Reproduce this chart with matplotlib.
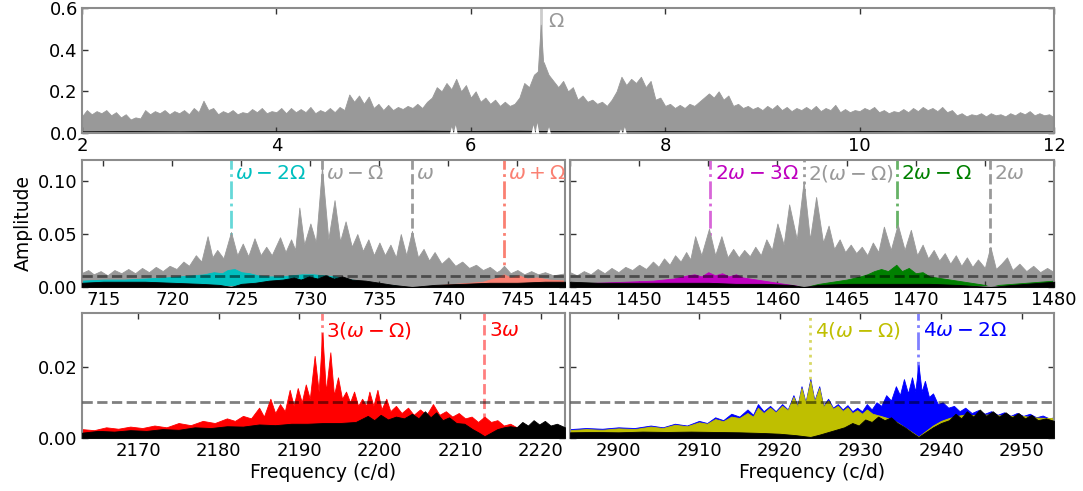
import numpy as np
import matplotlib
matplotlib.use('Agg')
import matplotlib.pyplot as plt

# ---------------- данные ----------------
# верхняя панель: 2-12 c/d, шаг 0.05
top_freq = np.round(np.arange(2.0, 12.001, 0.05), 2)
top_amp = [0.08, 0.11, 0.09, 0.105, 0.095, 0.11, 0.085, 0.10, 0.075, 0.09,
           0.065, 0.075, 0.07, 0.11, 0.09, 0.105, 0.095, 0.11, 0.09, 0.105,
           0.095, 0.11, 0.09, 0.12, 0.10, 0.155, 0.11, 0.12, 0.09, 0.105,
           0.095, 0.11, 0.09, 0.10, 0.095, 0.115, 0.10, 0.12, 0.095, 0.105,
           0.10, 0.12, 0.095, 0.12, 0.10, 0.115, 0.10, 0.125, 0.095, 0.11,
           0.10, 0.12, 0.10, 0.125, 0.11, 0.185, 0.15, 0.18, 0.14, 0.175,
           0.12, 0.14, 0.11, 0.135, 0.11, 0.125, 0.115, 0.13, 0.12, 0.14,
           0.12, 0.15, 0.17, 0.22, 0.20, 0.24, 0.21, 0.26, 0.20, 0.23,
           0.17, 0.20, 0.15, 0.17, 0.14, 0.16, 0.13, 0.15, 0.13, 0.14,
           0.17, 0.24, 0.22, 0.28, 0.30, 0.34, 0.28, 0.25, 0.22, 0.25,
           0.20, 0.22, 0.16, 0.18, 0.15, 0.16, 0.14, 0.15, 0.13, 0.16,
           0.20, 0.27, 0.23, 0.26, 0.24, 0.27, 0.22, 0.25, 0.16, 0.17,
           0.13, 0.14, 0.12, 0.135, 0.12, 0.14, 0.13, 0.15, 0.17, 0.19,
           0.17, 0.20, 0.16, 0.18, 0.13, 0.14, 0.12, 0.13, 0.115, 0.125,
           0.11, 0.13, 0.115, 0.135, 0.11, 0.125, 0.105, 0.12, 0.11, 0.125,
           0.11, 0.13, 0.105, 0.12, 0.11, 0.135, 0.10, 0.115, 0.10, 0.11,
           0.105, 0.12, 0.11, 0.125, 0.10, 0.11, 0.095, 0.105, 0.10, 0.115,
           0.10, 0.12, 0.105, 0.125, 0.11, 0.12, 0.105, 0.125, 0.10, 0.11,
           0.085, 0.095, 0.08, 0.09, 0.085, 0.095, 0.08, 0.095, 0.085, 0.09,
           0.08, 0.095, 0.085, 0.10, 0.09, 0.105, 0.085, 0.095, 0.085, 0.09,
           0.075]
peak_freq = [6.69, 6.72, 6.75]
peak_amp = [0.30, 0.52, 0.30]
top_black_freq = np.arange(2.0, 12.01, 0.5)
top_black_amp = [0.008, 0.009, 0.008, 0.01, 0.009, 0.011, 0.01, 0.011, 0.01, 0.011,
                 0.009, 0.008, 0.009, 0.008, 0.009, 0.008, 0.009, 0.008, 0.009, 0.008, 0.008]
top_white_f = [5.78, 5.80, 5.82, 5.84, 5.86, 6.62, 6.64, 6.66, 6.68, 6.70,
               6.78, 6.80, 6.82, 7.52, 7.54, 7.56, 7.58, 7.60]
top_white_a = [0.0, 0.03, 0.0, 0.04, 0.0, 0.0, 0.04, 0.0, 0.05, 0.0,
               0.0, 0.03, 0.0, 0.0, 0.02, 0.0, 0.03, 0.0]

# средняя левая панель (около omega - Omega)
ml_gray_f = [713.4, 713.9, 714.3, 714.8, 715.3, 715.8, 716.3, 716.8, 717.3, 717.8,
             718.3, 718.8, 719.3, 719.8, 720.3, 720.8, 721.2, 721.7, 722.1, 722.55,
             722.9, 723.25, 723.7, 724.25, 724.7, 725.1, 725.5, 725.95, 726.4, 726.8,
             727.2, 727.8, 728.2, 728.6, 728.9, 729.2, 729.55, 730.0, 730.4, 730.84,
             731.3, 731.75, 732.15, 732.55, 733.0, 733.4, 733.8, 734.2, 734.6, 735.0,
             735.4, 735.8, 736.2, 736.55, 736.95, 737.36, 737.8, 738.2, 738.6, 739.0,
             739.5, 740.0, 740.5, 741.0, 741.5, 742.0, 742.5, 743.0, 743.5, 743.75,
             744.03, 744.5, 745.0, 745.5, 746.0, 746.5, 747.0, 747.6, 748.5]
ml_gray_a = [0.013, 0.016, 0.012, 0.015, 0.011, 0.016, 0.013, 0.017, 0.013, 0.018,
             0.014, 0.019, 0.015, 0.020, 0.017, 0.024, 0.020, 0.030, 0.024, 0.048,
             0.028, 0.035, 0.027, 0.052, 0.030, 0.041, 0.029, 0.046, 0.030, 0.038,
             0.030, 0.047, 0.033, 0.045, 0.035, 0.075, 0.040, 0.060, 0.042, 0.113,
             0.045, 0.082, 0.043, 0.062, 0.038, 0.050, 0.034, 0.045, 0.030, 0.042,
             0.030, 0.040, 0.028, 0.050, 0.030, 0.053, 0.028, 0.036, 0.025, 0.033,
             0.022, 0.028, 0.020, 0.024, 0.018, 0.021, 0.016, 0.019, 0.014, 0.016,
             0.020, 0.013, 0.016, 0.012, 0.015, 0.012, 0.014, 0.011, 0.013]
ml_cyan_f = [713.4, 715.0, 716.5, 718.0, 719.5, 720.5, 721.5, 722.3, 723.0, 723.6,
             724.0, 724.5, 725.0, 725.6, 726.2, 727.0, 727.8, 728.6, 729.4, 730.2,
             731.0, 731.8, 732.6, 733.4, 734.2, 735.0, 736.0, 737.0]
ml_cyan_a = [0.006, 0.007, 0.007, 0.008, 0.009, 0.010, 0.011, 0.012, 0.014, 0.013,
             0.016, 0.017, 0.014, 0.013, 0.011, 0.010, 0.010, 0.011, 0.012, 0.012,
             0.011, 0.010, 0.008, 0.006, 0.004, 0.003, 0.0015, 0.0]
ml_salmon_f = [738.5, 739.5, 740.5, 741.5, 742.5, 743.0, 743.6, 744.03, 744.5, 745.1,
               745.7, 746.4, 747.3, 748.5]
ml_salmon_a = [0.0, 0.002, 0.003, 0.004, 0.005, 0.007, 0.009, 0.012, 0.009, 0.011,
               0.008, 0.009, 0.007, 0.006]
ml_black_f = [713.4, 715.0, 716.5, 718.0, 720.0, 722.0, 723.4, 724.25, 725.0, 726.0,
              727.0, 728.0, 728.8, 729.3, 729.9, 730.5, 731.1, 731.7, 732.3, 733.0,
              734.0, 735.0, 736.0, 737.36, 739.0, 741.0, 743.0, 745.0, 747.0, 748.5]
ml_black_a = [0.004, 0.005, 0.005, 0.005, 0.004, 0.003, 0.002, 0.0, 0.003, 0.004,
              0.006, 0.007, 0.009, 0.007, 0.010, 0.008, 0.011, 0.008, 0.010, 0.007,
              0.006, 0.004, 0.002, 0.0, 0.002, 0.003, 0.004, 0.004, 0.005, 0.005]

# средняя правая панель (около 2(omega - Omega))
mr_gray_f = [1445.0, 1445.5, 1446.0, 1446.5, 1447.0, 1447.5, 1448.0, 1448.5, 1449.0, 1449.5,
             1450.0, 1450.5, 1451.0, 1451.4, 1451.8, 1452.2, 1452.6, 1453.0, 1453.4, 1453.7,
             1454.05, 1454.5, 1455.05, 1455.5, 1455.95, 1456.4, 1456.8, 1457.2, 1457.6, 1458.0,
             1458.4, 1458.8, 1459.2, 1459.6, 1460.0, 1460.45, 1460.85, 1461.4, 1461.9, 1462.35,
             1462.8, 1463.3, 1463.7, 1464.1, 1464.5, 1464.9, 1465.3, 1465.7, 1466.1, 1466.5,
             1466.9, 1467.3, 1467.7, 1468.2, 1468.7, 1469.2, 1469.65, 1470.1, 1470.5, 1470.9,
             1471.3, 1471.7, 1472.1, 1472.5, 1472.9, 1473.3, 1473.7, 1474.1, 1474.5, 1475.0,
             1475.4, 1475.8, 1476.2, 1476.6, 1477.0, 1477.5, 1478.0, 1478.5, 1479.0, 1479.5, 1480.0]
mr_gray_a = [0.014, 0.011, 0.015, 0.012, 0.017, 0.013, 0.018, 0.014, 0.019, 0.016,
             0.021, 0.017, 0.024, 0.019, 0.027, 0.021, 0.030, 0.024, 0.033, 0.026,
             0.048, 0.030, 0.055, 0.030, 0.048, 0.028, 0.036, 0.028, 0.035, 0.029,
             0.038, 0.030, 0.045, 0.035, 0.060, 0.040, 0.078, 0.045, 0.100, 0.045,
             0.085, 0.042, 0.058, 0.036, 0.045, 0.033, 0.040, 0.032, 0.038, 0.030,
             0.042, 0.033, 0.057, 0.035, 0.059, 0.035, 0.054, 0.030, 0.040, 0.027,
             0.035, 0.025, 0.032, 0.022, 0.030, 0.020, 0.028, 0.019, 0.026, 0.018,
             0.038, 0.017, 0.022, 0.028, 0.016, 0.022, 0.015, 0.020, 0.014, 0.018, 0.014]
mr_magenta_f = [1445.0, 1447.0, 1449.0, 1451.0, 1452.5, 1453.5, 1454.0, 1454.5, 1455.0, 1455.5,
                1456.0, 1456.5, 1457.0, 1457.5, 1458.5, 1459.5, 1460.5, 1461.5, 1462.0]
mr_magenta_a = [0.003, 0.004, 0.005, 0.006, 0.008, 0.011, 0.012, 0.010, 0.014, 0.011,
                0.013, 0.010, 0.012, 0.009, 0.007, 0.005, 0.003, 0.001, 0.0]
mr_green_f = [1462.0, 1463.0, 1464.0, 1465.0, 1466.0, 1466.5, 1467.0, 1467.5, 1468.0, 1468.6,
              1469.0, 1469.5, 1470.0, 1470.5, 1471.0, 1472.0, 1473.0, 1474.0, 1475.0, 1475.4,
              1476.0, 1477.0, 1478.0, 1480.0]
mr_green_a = [0.0, 0.003, 0.005, 0.007, 0.010, 0.012, 0.015, 0.017, 0.015, 0.021,
              0.015, 0.018, 0.013, 0.014, 0.010, 0.008, 0.006, 0.004, 0.002, 0.0,
              0.002, 0.003, 0.004, 0.006]
mr_black_f = [1445.0, 1447.0, 1449.0, 1451.0, 1453.0, 1455.0, 1457.0, 1459.0, 1461.0, 1461.9,
              1463.0, 1465.0, 1467.0, 1469.0, 1471.0, 1473.0, 1475.4, 1477.0, 1479.0, 1480.0]
mr_black_a = [0.005, 0.004, 0.004, 0.004, 0.004, 0.004, 0.003, 0.003, 0.002, 0.0,
              0.002, 0.003, 0.003, 0.003, 0.003, 0.002, 0.0, 0.002, 0.004, 0.005]

# нижняя левая панель (около 3(omega - Omega))
bl_red_f = [2163.0, 2164.5, 2166.0, 2167.5, 2169.0, 2170.5, 2172.0, 2173.5, 2175.0, 2176.5,
            2178.0, 2179.5, 2181.0, 2182.0, 2183.0, 2184.0, 2185.0, 2185.6, 2186.4, 2187.0,
            2187.6, 2188.2, 2188.8, 2189.3, 2189.8, 2190.3, 2190.8, 2191.3, 2191.9, 2192.4,
            2192.85, 2193.3, 2193.85, 2194.3, 2194.8, 2195.3, 2195.8, 2196.3, 2196.8, 2197.3,
            2197.8, 2198.3, 2198.7, 2199.2, 2199.7, 2200.2, 2200.8, 2201.3, 2202.0, 2202.7,
            2203.5, 2204.2, 2205.0, 2205.8, 2206.6, 2207.4, 2208.2, 2209.0, 2209.8, 2210.6,
            2211.4, 2212.2, 2213.0, 2213.8, 2214.6, 2215.4, 2216.2, 2217.0, 2218.0]
bl_red_a = [0.0025, 0.0022, 0.003, 0.0026, 0.0032, 0.0028, 0.0035, 0.003, 0.0042, 0.0036,
            0.0048, 0.0042, 0.0055, 0.0048, 0.0062, 0.0055, 0.0085, 0.006, 0.011, 0.007,
            0.0095, 0.0075, 0.0135, 0.009, 0.014, 0.010, 0.015, 0.011, 0.023, 0.013,
            0.0295, 0.013, 0.024, 0.012, 0.017, 0.011, 0.013, 0.010, 0.013, 0.009,
            0.011, 0.009, 0.013, 0.009, 0.0135, 0.008, 0.011, 0.0075, 0.009, 0.007,
            0.0085, 0.0065, 0.008, 0.0065, 0.0095, 0.0065, 0.0075, 0.006, 0.007, 0.0055,
            0.006, 0.0045, 0.006, 0.0045, 0.005, 0.0035, 0.004, 0.003, 0.002]
bl_black_f = [2163.0, 2165.0, 2167.0, 2169.0, 2171.0, 2173.0, 2175.0, 2177.0, 2179.0, 2181.0,
              2183.0, 2185.0, 2187.0, 2189.0, 2191.0, 2193.0, 2195.0, 2197.0, 2198.5, 2199.3,
              2200.1, 2201.0, 2202.0, 2203.0, 2204.0, 2204.8, 2205.6, 2206.3, 2207.0, 2207.8,
              2208.6, 2209.5, 2210.5, 2211.5, 2212.3, 2213.0, 2213.8, 2214.6, 2215.4, 2216.2,
              2217.0, 2217.7, 2218.4, 2219.1, 2219.8, 2220.5, 2221.2, 2222.0, 2223.0]
bl_black_a = [0.0015, 0.002, 0.0018, 0.0022, 0.002, 0.0025, 0.0023, 0.003, 0.0028, 0.0033,
              0.0032, 0.0038, 0.0036, 0.004, 0.004, 0.0042, 0.0042, 0.0045, 0.0062, 0.005,
              0.0065, 0.0052, 0.006, 0.0055, 0.0068, 0.0055, 0.0075, 0.0058, 0.0072, 0.005,
              0.0058, 0.0042, 0.004, 0.0025, 0.0015, 0.0005, 0.0015, 0.0025, 0.003, 0.0033,
              0.003, 0.0045, 0.0035, 0.005, 0.0038, 0.0048, 0.0035, 0.004, 0.003]

# нижняя правая панель (около 4(omega - Omega))
br_blue_f = [2894.0, 2896.0, 2898.0, 2900.0, 2902.0, 2904.0, 2905.5, 2907.0, 2908.5, 2910.0,
             2911.0, 2912.0, 2913.0, 2914.0, 2915.0, 2916.0, 2916.7, 2917.3, 2918.0, 2918.8,
             2919.5, 2920.3, 2921.0, 2921.7, 2922.2, 2922.7, 2923.2, 2923.8, 2924.3, 2924.9,
             2925.4, 2926.0, 2926.6, 2927.2, 2927.8, 2928.4, 2929.0, 2929.6, 2930.2, 2930.8,
             2931.4, 2932.0, 2932.6, 2933.2, 2933.8, 2934.4, 2934.9, 2935.4, 2935.9, 2936.4,
             2936.8, 2937.2, 2937.6, 2938.0, 2938.5, 2939.0, 2939.6, 2940.2, 2940.9, 2941.6,
             2942.3, 2943.0, 2943.8, 2944.6, 2945.4, 2946.2, 2947.0, 2947.8, 2948.6, 2949.4,
             2950.2, 2951.0, 2951.8, 2952.6, 2953.4, 2954.0]
br_blue_a = [0.0025, 0.0028, 0.0026, 0.003, 0.0028, 0.0035, 0.003, 0.004, 0.0035, 0.0048,
             0.0042, 0.0058, 0.005, 0.0068, 0.006, 0.008, 0.0065, 0.0095, 0.0075, 0.009,
             0.0075, 0.0095, 0.008, 0.012, 0.009, 0.0145, 0.010, 0.0165, 0.0105, 0.0145,
             0.009, 0.011, 0.0085, 0.0095, 0.008, 0.0092, 0.0075, 0.0085, 0.0075, 0.0095,
             0.008, 0.010, 0.009, 0.012, 0.0105, 0.0145, 0.012, 0.0165, 0.0125, 0.017,
             0.013, 0.0205, 0.013, 0.016, 0.0115, 0.0125, 0.0095, 0.010, 0.0085, 0.009,
             0.0075, 0.0085, 0.007, 0.0078, 0.0068, 0.0075, 0.0065, 0.0072, 0.0062, 0.007,
             0.0062, 0.0068, 0.0058, 0.0063, 0.0055, 0.0058]
br_yellow_f = [2894.0, 2896.0, 2898.0, 2900.0, 2902.0, 2904.0, 2905.5, 2907.0, 2908.5, 2910.0,
               2911.0, 2912.0, 2913.0, 2914.0, 2915.0, 2916.0, 2916.7, 2917.3, 2918.0, 2918.8,
               2919.5, 2920.3, 2921.0, 2921.7, 2922.2, 2922.7, 2923.2, 2923.8, 2924.3, 2924.9,
               2925.4, 2926.0, 2926.6, 2927.2, 2927.8, 2928.4, 2929.0, 2929.6, 2930.2, 2930.8,
               2931.5, 2932.5, 2933.5, 2934.5, 2935.5, 2936.5, 2937.2, 2938.0, 2939.0, 2940.0,
               2941.0, 2942.0, 2943.0, 2944.0, 2946.0, 2948.0, 2950.0, 2952.0, 2954.0]
br_yellow_a = [0.0022, 0.0025, 0.0023, 0.0027, 0.0025, 0.0032, 0.0028, 0.0037, 0.0033, 0.0044,
               0.004, 0.0053, 0.0047, 0.006, 0.0056, 0.007, 0.006, 0.0085, 0.007, 0.0085,
               0.0072, 0.009, 0.0078, 0.0115, 0.0088, 0.014, 0.0098, 0.016, 0.0102, 0.014,
               0.0088, 0.0105, 0.0082, 0.009, 0.0076, 0.0086, 0.007, 0.0078, 0.0068, 0.008,
               0.0068, 0.0062, 0.0055, 0.0045, 0.003, 0.0015, 0.0004, 0.0018, 0.0035, 0.0048,
               0.0056, 0.0062, 0.0066, 0.0064, 0.0066, 0.0062, 0.0062, 0.0057, 0.0056]
br_black_f = [2894.0, 2897.0, 2900.0, 2903.0, 2906.0, 2909.0, 2912.0, 2915.0, 2918.0, 2920.0,
              2922.0, 2923.8, 2925.0, 2926.5, 2928.0, 2929.0, 2929.8, 2930.6, 2931.4, 2932.2,
              2933.0, 2933.8, 2934.6, 2935.5, 2936.4, 2937.2, 2938.0, 2939.0, 2940.0, 2941.0,
              2941.8, 2942.5, 2943.2, 2944.0, 2944.8, 2945.6, 2946.4, 2947.2, 2948.0, 2948.8,
              2949.6, 2950.4, 2951.2, 2952.0, 2953.0, 2954.0]
br_black_a = [0.0016, 0.0017, 0.0016, 0.0018, 0.0017, 0.0018, 0.0017, 0.0016, 0.0014, 0.0012,
              0.0008, 0.0003, 0.001, 0.002, 0.003, 0.0042, 0.0035, 0.0052, 0.0045, 0.006,
              0.005, 0.0058, 0.0042, 0.003, 0.0015, 0.0003, 0.0015, 0.003, 0.0042, 0.005,
              0.0068, 0.0055, 0.0075, 0.006, 0.008, 0.0062, 0.0075, 0.006, 0.0072, 0.0058,
              0.007, 0.0055, 0.0065, 0.005, 0.0055, 0.0048]

# отмеченные частоты (c/d)
omega_orb = 6.72
ml_marks = [724.25, 730.84, 737.36, 744.03]
mr_marks = [1455.15, 1461.9, 1468.66, 1475.36]
bl_marks = [2192.85, 2213.0]
br_marks = [2923.8, 2937.2]
threshold = 0.01

# ---------------- рисунок ----------------
plt.rcParams['font.family'] = 'DejaVu Sans'
plt.rcParams['mathtext.fontset'] = 'dejavusans'

fig = plt.figure(figsize=(10.83, 4.91), dpi=100)
ax_top = fig.add_axes([0.0757, 0.7291, 0.8975, 0.2546])
ax_ml = fig.add_axes([0.0757, 0.4155, 0.4460, 0.2587])
ax_mr = fig.add_axes([0.5263, 0.4155, 0.4469, 0.2587])
ax_bl = fig.add_axes([0.0757, 0.1079, 0.4460, 0.2546])
ax_br = fig.add_axes([0.5263, 0.1079, 0.4469, 0.2546])

gray = '0.6'


def style(ax):
    for sp in ax.spines.values():
        sp.set_color('0.55')
        sp.set_linewidth(1.5)
    ax.tick_params(direction='in', top=True, right=True, length=4, width=1,
                   color='0.2', labelsize=13, pad=3)


def spectrum(ax, f, a, color, z=1):
    ax.fill_between(f, 0, a, color=color, lw=0.6, zorder=z)


def mark(ax, x, label, color, ls, alpha, ytext=0.89, tcolor=None):
    ax.axvline(x, color=color, ls=ls, lw=2, alpha=alpha, zorder=0.5)
    ax.annotate(label, xy=(x, ytext), xycoords=('data', 'axes fraction'),
                xytext=(3, 0), textcoords='offset points', va='center', ha='left',
                color=tcolor if tcolor else color, fontsize=14.5)


# верхняя панель
style(ax_top)
ax_top.axvline(omega_orb, color='0.8', lw=2, zorder=0.5)
spectrum(ax_top, top_freq, top_amp, gray)
spectrum(ax_top, peak_freq, peak_amp, gray)
spectrum(ax_top, top_black_freq, top_black_amp, 'k', 2)
ax_top.fill_between(top_white_f, 0, top_white_a, color='w', lw=0, zorder=3)
ax_top.annotate(r'$\Omega$', xy=(omega_orb, 0.89), xycoords=('data', 'axes fraction'),
                xytext=(5, 0), textcoords='offset points', va='center', color=gray, fontsize=14.5)
ax_top.set_xlim(2, 12)
ax_top.set_ylim(0, 0.6)
ax_top.set_xticks([2, 4, 6, 8, 10, 12])
ax_top.set_yticks([0.0, 0.2, 0.4, 0.6])
ax_top.set_yticklabels(['0.0', '0.2', '0.4', '0.6'])

# средняя левая
style(ax_ml)
spectrum(ax_ml, ml_gray_f, ml_gray_a, gray)
spectrum(ax_ml, ml_cyan_f, ml_cyan_a, 'c', 2)
spectrum(ax_ml, ml_salmon_f, ml_salmon_a, 'salmon', 2)
spectrum(ax_ml, ml_black_f, ml_black_a, 'k', 3)
mark(ax_ml, ml_marks[0], r'$\omega-2\Omega$', 'c', '-.', 0.6)
mark(ax_ml, ml_marks[1], r'$\omega-\Omega$', '0.5', '--', 0.8, tcolor=gray)
mark(ax_ml, ml_marks[2], r'$\omega$', '0.5', '--', 0.8, tcolor=gray)
mark(ax_ml, ml_marks[3], r'$\omega+\Omega$', 'salmon', '-.', 1.0)
ax_ml.axhline(threshold, color='k', ls='--', lw=2, alpha=0.5, zorder=4)
ax_ml.set_xlim(713.45, 748.45)
ax_ml.set_ylim(0, 0.12)
ax_ml.set_xticks([715, 720, 725, 730, 735, 740, 745])
ax_ml.set_yticks([0.0, 0.05, 0.10])
ax_ml.set_yticklabels(['0.00', '0.05', '0.10'])
ax_ml.set_ylabel('Amplitude', fontsize=13.5)

# средняя правая
style(ax_mr)
spectrum(ax_mr, mr_gray_f, mr_gray_a, gray)
spectrum(ax_mr, mr_magenta_f, mr_magenta_a, 'm', 2)
spectrum(ax_mr, mr_green_f, mr_green_a, 'g', 2)
spectrum(ax_mr, mr_black_f, mr_black_a, 'k', 3)
mark(ax_mr, mr_marks[0], r'$2\omega-3\Omega$', 'm', '-.', 0.6)
mark(ax_mr, mr_marks[1], r'$2(\omega-\Omega)$', '0.5', ':', 0.8, tcolor=gray)
mark(ax_mr, mr_marks[2], r'$2\omega-\Omega$', 'g', '-.', 0.6)
mark(ax_mr, mr_marks[3], r'$2\omega$', '0.5', '--', 0.8, tcolor=gray)
ax_mr.axhline(threshold, color='k', ls='--', lw=2, alpha=0.5, zorder=4)
ax_mr.set_xlim(1445, 1480)
ax_mr.set_ylim(0, 0.12)
ax_mr.set_xticks([1445, 1450, 1455, 1460, 1465, 1470, 1475, 1480])
ax_mr.set_yticks([0.0, 0.05, 0.10])
ax_mr.set_yticklabels([])

# нижняя левая
style(ax_bl)
spectrum(ax_bl, bl_red_f, bl_red_a, 'r', 2)
spectrum(ax_bl, bl_black_f, bl_black_a, 'k', 3)
mark(ax_bl, bl_marks[0], r'$3(\omega-\Omega)$', 'r', '-.', 0.5, ytext=0.86, tcolor='r')
mark(ax_bl, bl_marks[1], r'$3\omega$', 'r', '--', 0.5, ytext=0.86, tcolor='r')
ax_bl.axhline(threshold, color='k', ls='--', lw=2, alpha=0.5, zorder=4)
ax_bl.set_xlim(2163, 2223)
ax_bl.set_ylim(0, 0.035)
ax_bl.set_xticks([2170, 2180, 2190, 2200, 2210, 2220])
ax_bl.set_yticks([0.0, 0.02])
ax_bl.set_yticklabels(['0.00', '0.02'])
ax_bl.set_xlabel('Frequency (c/d)', fontsize=13.5, labelpad=2)

# нижняя правая
style(ax_br)
spectrum(ax_br, br_blue_f, br_blue_a, 'b', 1)
spectrum(ax_br, br_yellow_f, br_yellow_a, 'y', 2)
spectrum(ax_br, br_black_f, br_black_a, 'k', 3)
mark(ax_br, br_marks[0], r'$4(\omega-\Omega)$', 'y', ':', 0.6, ytext=0.86)
mark(ax_br, br_marks[1], r'$4\omega-2\Omega$', 'b', '-.', 0.5, ytext=0.86, tcolor='b')
ax_br.axhline(threshold, color='k', ls='--', lw=2, alpha=0.5, zorder=4)
ax_br.set_xlim(2894, 2954)
ax_br.set_ylim(0, 0.035)
ax_br.set_xticks([2900, 2910, 2920, 2930, 2940, 2950])
ax_br.set_yticks([0.0, 0.02])
ax_br.set_yticklabels([])
ax_br.set_xlabel('Frequency (c/d)', fontsize=13.5, labelpad=2)

fig.savefig('out.png', dpi=100)
